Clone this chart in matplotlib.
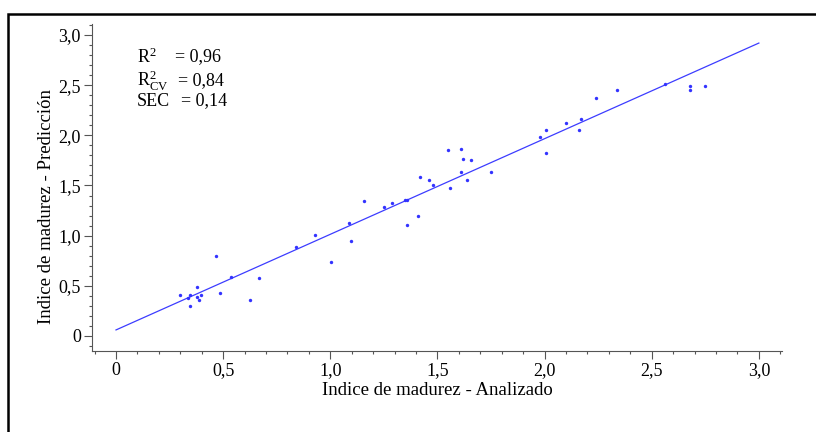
import matplotlib
matplotlib.use("agg")
import matplotlib.pyplot as plt
from matplotlib.patches import Rectangle
from matplotlib.ticker import MultipleLocator, FuncFormatter

# Indice de madurez: analizado (x) vs predicción (y)
analizado = [0.467, 0.838, 0.537, 0.667, 0.376, 0.297, 0.347, 0.337, 0.376, 0.397,
             0.387, 0.487, 0.347, 0.625,
             1.549, 1.610, 1.619, 1.658, 1.610, 1.750, 1.639, 1.560, 1.419, 1.459,
             1.478, 1.157, 1.288, 1.249, 1.350, 1.359, 1.408, 1.359, 1.087, 0.927,
             1.098, 1.003,
             2.560, 2.680, 2.680, 2.750, 2.339, 2.240, 2.168, 2.100, 2.159, 2.008,
             1.978, 2.008]
prediccion = [0.80, 0.89, 0.585, 0.58, 0.49, 0.41, 0.41, 0.38, 0.39, 0.41,
              0.36, 0.43, 0.30, 0.355,
              1.857, 1.864, 1.76, 1.758, 1.635, 1.635, 1.55, 1.48, 1.58, 1.55,
              1.50, 1.35, 1.33, 1.29, 1.356, 1.36, 1.196, 1.11, 1.13, 1.01,
              0.95, 0.738,
              2.513, 2.49, 2.45, 2.495, 2.456, 2.37, 2.16, 2.12, 2.05, 2.05,
              1.98, 1.82]

# recta de regresión
recta_x = [0.0, 3.0]
recta_y = [0.06, 2.92]

estadisticos = ["R$^{2}$", "R$^{2}_{\\mathrm{CV}}$", "SEC"]
valores = ["= 0,96", "= 0,84", "= 0,14"]

plt.rcParams["font.family"] = "Liberation Serif"
plt.rcParams["mathtext.fontset"] = "custom"
plt.rcParams["mathtext.rm"] = "Liberation Serif"
plt.rcParams["mathtext.it"] = "Liberation Serif"

W, H = 816, 432
fig = plt.figure(figsize=(W / 100, H / 100), dpi=100)
ax = fig.add_axes([92 / W, 1 - 351 / H, (782 - 92) / W, (351 - 24) / H])

ax.plot(recta_x, recta_y, color="#3c3cff", lw=0.9)
ax.scatter(analizado, prediccion, s=6, color="#3333ff", linewidths=0, zorder=3)

ax.set_xlim(-0.112, 3.108)
ax.set_ylim(-0.15, 3.11)
for s in ["top", "right"]:
    ax.spines[s].set_visible(False)
for s in ["left", "bottom"]:
    ax.spines[s].set_linewidth(0.8)
    ax.spines[s].set_color("#555555")

fmt = FuncFormatter(lambda v, p: "0" if abs(v) < 1e-9 else f"{v:.1f}".replace(".", ","))
for axis in (ax.xaxis, ax.yaxis):
    axis.set_major_locator(MultipleLocator(0.5))
    axis.set_minor_locator(MultipleLocator(0.1))
    axis.set_major_formatter(fmt)
ax.tick_params(which="major", length=6, width=0.8, color="#555555", labelsize=13, pad=2)
ax.tick_params(which="minor", length=2.5, width=0.8, color="#555555")

ax.set_xlabel("Indice de madurez - Analizado", fontsize=13.5, labelpad=2)
ax.set_ylabel("Indice de madurez - Predicción", fontsize=13.5, va="center")
ax.yaxis.set_label_coords((47 - 92) / 690, (351 - 206) / 327)

ys = [57, 81, 101]
xs_val = [175, 178, 181]
for est, val, yp, xv in zip(estadisticos, valores, ys, xs_val):
    fig.text(137 / W, 1 - yp / H, est, fontsize=13, va="center", ha="left")
    fig.text(xv / W, 1 - yp / H, val, fontsize=13, va="center", ha="left")

# marco exterior
fig.patches.append(Rectangle((8 / W, -0.5), 2, 1.5 - 14 / H, transform=fig.transFigure,
                             fill=False, lw=1.8, edgecolor="black", clip_on=False))

plt.savefig("out.png", dpi=100)
plt.close()
